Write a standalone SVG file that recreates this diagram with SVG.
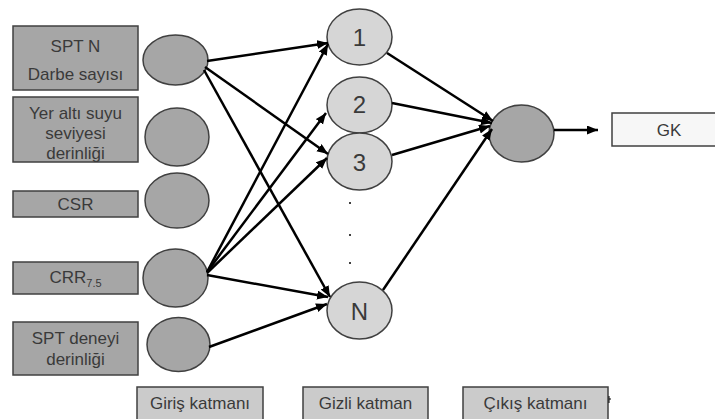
<svg xmlns="http://www.w3.org/2000/svg" width="715" height="419" viewBox="0 0 715 419">
<defs>
<marker id="arr" markerUnits="userSpaceOnUse" markerWidth="12" markerHeight="10" refX="11" refY="4.5" orient="auto">
<path d="M0,0 L11,4.5 L0,9 Z" fill="#000"/>
</marker>
<style>
.box{fill:#a6a6a6;stroke:#404040;stroke-width:1.5}
.inn{fill:#a6a6a6;stroke:#404040;stroke-width:1.5}
.hid{fill:#d6d6d6;stroke:#404040;stroke-width:1.5}
.lab{fill:#cbcbcb;stroke:#404040;stroke-width:1.5}
.out{fill:#f7f7f7;stroke:#404040;stroke-width:1.5}
text{font-family:"Liberation Sans",Arial,sans-serif;font-size:17px;fill:#3a3a3a;text-anchor:middle}
.big{font-size:24px}
.con line{stroke:#000;stroke-width:2.5;marker-end:url(#arr)}
</style>
</defs>
<rect width="715" height="419" fill="#fff"/>

<g id="box-sptn"><rect class="box" x="13" y="26" width="125" height="64"/><text x="75.5" y="52">SPT N</text><text x="75.5" y="80">Darbe sayısı</text></g>
<g id="box-yas"><rect class="box" x="13" y="97" width="125" height="65"/><text x="75.5" y="119">Yer altı suyu</text><text x="75.5" y="139">seviyesi</text><text x="75.5" y="159">derinliği</text></g>
<g id="box-csr"><rect class="box" x="13" y="191" width="125" height="26"/><text x="75.5" y="210">CSR</text></g>
<g id="box-crr"><rect class="box" x="13" y="262" width="125" height="32"/><text x="75.5" y="283">CRR<tspan font-size="11" dy="4">7.5</tspan></text></g>
<g id="box-sptd"><rect class="box" x="13" y="322" width="125" height="53"/><text x="75.5" y="344">SPT deneyi</text><text x="75.5" y="365">derinliği</text></g>

<g id="in1"><ellipse class="inn" cx="175.5" cy="60" rx="32.5" ry="25"/></g>
<g id="in2"><ellipse class="inn" cx="177" cy="137" rx="32" ry="29"/></g>
<g id="in3"><ellipse class="inn" cx="177" cy="200.5" rx="32" ry="27.5"/></g>
<g id="in4"><ellipse class="inn" cx="175.5" cy="278" rx="32.5" ry="29"/></g>
<g id="in5"><ellipse class="inn" cx="178.5" cy="344.5" rx="31.5" ry="27"/></g>

<g id="h1"><ellipse class="hid" cx="359.5" cy="37" rx="32.5" ry="28"/><text class="big" x="359.5" y="46">1</text></g>
<g id="h2"><ellipse class="hid" cx="359.5" cy="105" rx="32.5" ry="28"/><text class="big" x="359.5" y="113">2</text></g>
<g id="h3"><ellipse class="hid" cx="359.5" cy="161.5" rx="32.5" ry="28.5"/><text class="big" x="359.5" y="171">3</text></g>
<g id="dots" fill="#000"><circle cx="350" cy="203" r="1"/><circle cx="350" cy="235" r="1"/><circle cx="350" cy="263" r="1"/></g>
<g id="hN"><ellipse class="hid" cx="359.5" cy="310.5" rx="32.5" ry="28.5"/><text class="big" x="359.5" y="320">N</text></g>

<g id="o1"><ellipse class="inn" cx="521.5" cy="133.5" rx="32.5" ry="28.5"/></g>
<g id="gk"><rect class="out" x="612" y="113" width="104" height="33"/><text x="669" y="136">GK</text></g>

<g id="lbl-in"><rect class="lab" x="137" y="387" width="126" height="34"/><text x="200" y="409">Giriş katmanı</text></g>
<g id="lbl-hid"><rect class="lab" x="303" y="387" width="125" height="34"/><text x="365.5" y="409">Gizli katman</text></g>
<g id="lbl-out"><rect class="lab" x="463" y="387" width="145" height="34"/><text x="535.5" y="409">Çıkış katmanı</text></g>
<path d="M609,396 V403 M609,399 H611" stroke="#000" stroke-width="1"/>

<g class="con" id="connectors">
<line x1="207" y1="61" x2="328" y2="43"/>
<line x1="205" y1="67" x2="328" y2="154"/>
<line x1="204" y1="70" x2="330" y2="297"/>
<line x1="207" y1="272" x2="328" y2="44"/>
<line x1="207" y1="272" x2="326" y2="113"/>
<line x1="207" y1="273" x2="327" y2="158"/>
<line x1="207" y1="275" x2="328" y2="297"/>
<line x1="209" y1="347" x2="327" y2="304"/>
<line x1="387" y1="53" x2="493" y2="121"/>
<line x1="392" y1="103" x2="492" y2="123"/>
<line x1="392" y1="155" x2="490" y2="126"/>
<line x1="383" y1="290" x2="492" y2="129"/>
<line x1="554" y1="130" x2="598" y2="130"/>
</g>
</svg>
